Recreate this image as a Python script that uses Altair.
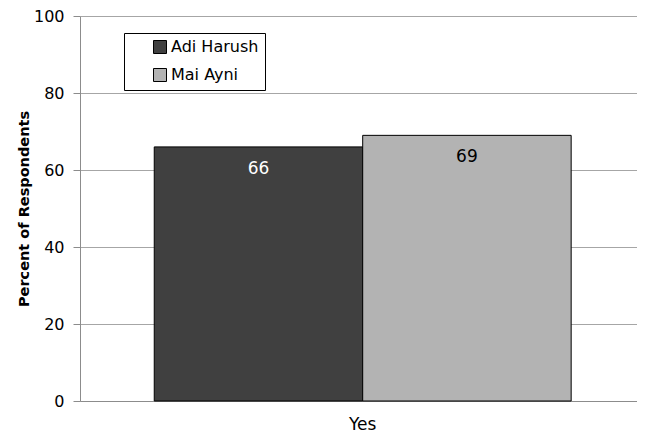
import altair as alt
import pandas as pd

categories = ["Yes"]
series = ["Adi Harush", "Mai Ayni"]
values = [66, 69]
series_colors = ["#404040", "#b3b3b3"]
y_ticks = [0, 20, 40, 60, 80, 100]

df = pd.DataFrame({
    "category": [categories[0]] * len(series),
    "series": series,
    "value": values,
})

FONT = "DejaVu Sans"

base = alt.Chart(df).encode(
    x=alt.X(
        "category:N",
        title=None,
        scale=alt.Scale(paddingInner=0, paddingOuter=0.168, align=0.53),
        axis=alt.Axis(
            labelAngle=0, ticks=False, tickSize=0, labelPadding=15,
            labelFontSize=17, labelFont=FONT, labelColor="#000000",
            domainColor="#8c8c8c", grid=False,
        ),
    ),
    xOffset=alt.XOffset(
        "series:N", sort=series,
        scale=alt.Scale(paddingInner=0, paddingOuter=0),
    ),
)

bars = base.mark_bar(stroke="#000000", strokeWidth=1, opacity=1).encode(
    y=alt.Y(
        "value:Q",
        title="Percent of Respondents",
        scale=alt.Scale(domain=[0, 100], nice=False),
        axis=alt.Axis(
            values=y_ticks, tickSize=7, tickColor="#8c8c8c",
            domainColor="#8c8c8c", gridColor="#a6a6a6",
            labelPadding=9, labelFontSize=16, labelFont=FONT,
            labelColor="#000000", titleFont=FONT, titleFontSize=14.5,
            titleFontWeight="bold", titleColor="#000000", titlePadding=2,
        ),
    ),
    color=alt.Color(
        "series:N",
        sort=series,
        scale=alt.Scale(domain=series, range=series_colors),
        legend=alt.Legend(
            title=None,
            orient="none",
            legendX=44,
            legendY=17,
            strokeColor="#000000",
            fillColor="#ffffff",
            padding=6,
            symbolType="square",
            symbolSize=169,
            symbolStrokeColor="#000000",
            symbolStrokeWidth=1,
            symbolOpacity=1,
            symbolOffset=22,
            labelOffset=3,
            labelFont=FONT,
            labelFontSize=16,
            labelColor="#000000",
            labelExpr="datum.label + '\u00a0\u00a0\u00a0\u00a0\u00a0'",
            rowPadding=10,
        ),
    ),
)

labels = base.mark_text(
    baseline="middle", dy=22, font=FONT, fontSize=17
).encode(
    y=alt.Y("value:Q"),
    text=alt.Text("value:Q"),
    color=alt.condition(
        alt.datum.series == series[0], alt.value("#ffffff"), alt.value("#000000")
    ),
)

chart = (
    alt.layer(bars, labels)
    .properties(
        width=557,
        height=385,
        autosize=alt.AutoSizeParams(type="none"),
        padding={"left": 72, "top": 8, "right": 0, "bottom": 33},
        background="#ffffff",
    )
    .configure_view(strokeWidth=0)
)

chart.save("out.html", embed_options={"renderer": "svg", "actions": False})
